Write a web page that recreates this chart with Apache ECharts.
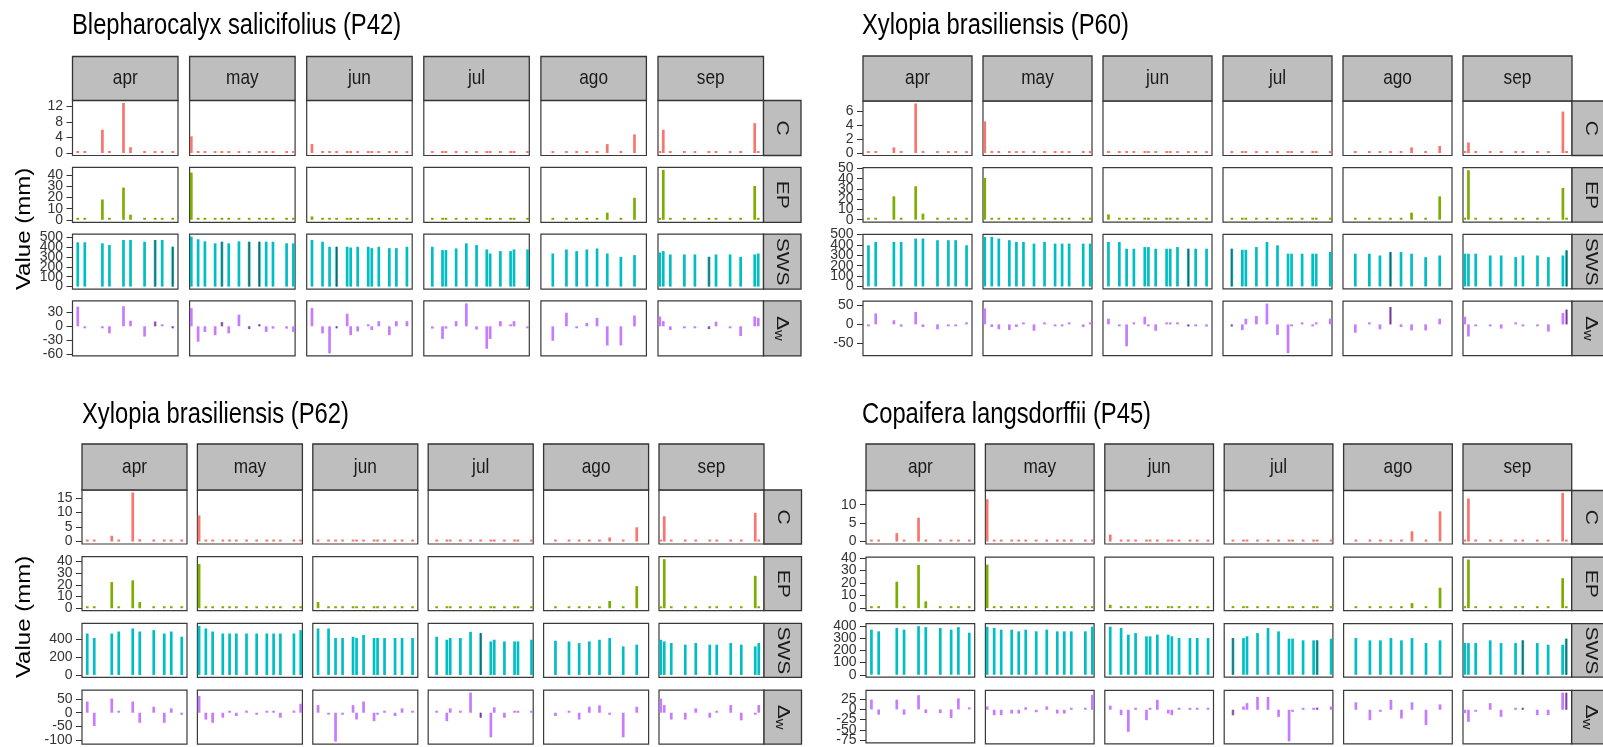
<!DOCTYPE html>
<html><head><meta charset="utf-8">
<script src="https://cdn.jsdelivr.net/npm/echarts@6/dist/echarts.min.js"></script>
<style>html,body{margin:0;padding:0;background:#fff}#c{width:1603px;height:747px}</style>
</head><body><div id="c"></div>
<script>
// ---------- categories ----------
const months = ['apr','may','jun','jul','ago','sep'];
const monthLength = [30,31,30,31,31,30];
const rowNames = ['C','EP','SWS','Δw'];
const rowColors = ['#F8766D','#7CAE00','#00BFC4','#C77CFF'];

// measurement days per month
const daysApr = [2,4,9,11,15,17,21,24,26,29];
const daysMay = [1,3,5,8,10,12,15,18,21,23,25,29,31];
const daysJun = [2,5,7,9,12,13,15,18,19,21,24,26,29];
const daysJul = [3,6,7,10,13,16,19,20,23,26,27,31];
const daysAgo = [4,8,11,14,17,20,24,28];
const daysSep = [1,2,4,8,11,15,17,21,24,28,29];

// ---------- P42 Blepharocalyx salicifolius ----------
const P42_C = [
 [0,0,6.0,0,12.9,1.5,0,0,0,0],
 [4.3,0,0,0,0,0,0,0,0,0,0,0,0],
 [2.3,0,0,0,0,0,0,0,0,0,0,0,0],
 [0,0,0,0,0,0,0,0,0,0,0,0],
 [0,0,0,0,0,2.3,0,4.8],
 [0,6.0,0,0,0,0,0,0,0,7.7,0]
];
const P42_EP = [
 [0,0,18.3,0,29,4.6,0,0,0,0],
 [42.5,0,0,0,0,0,0,0,0,0,0,0,0],
 [3,0,0,0,0,0,0,0,0,0,0,0,0],
 [0,0,0,0,0,0,0,0,0,0,0,0],
 [0,0,0,0,0,6.4,0,19.8],
 [0,45,0,0,0,0,0,0,0,30.5,0]
];
const P42_SWS = [
 [449,449,439,421,473,473,455,473,473,404],
 [507,480,459,439,455,439,459,455,455,455,455,439,439],
 [473,455,404,404,404,396,404,404,390,404,390,390,404],
 [404,370,370,387,439,421,377,336,360,360,377,377],
 [336,377,360,377,387,336,302,319],
 [346,360,326,326,326,302,326,326,302,326,336]
];
const P42_DW = [
 [42,-1,-4,-15,43,12,-22,10,3,-2],
 [39,-33,-12,-19,9,-15,25,-6,3,-12,-5,-5,-12],
 [39,-15,-58,-2,27,-19,-11,3,-8,11,-19,11,11],
 [-5,-27,-5,11,49,-7,-48,-27,11,3,11,-1],
 [-31,29,-2,7,18,-41,-41,23],
 [21,11,-8,-2,0,-6,10,-3,-21,21,18]
];
const P42_darkDays = [[24,29],[10,18,21],[9],[],[],[15]];
const ticksP42 = [[0,4,8,12],[0,10,20,30,40],[0,100,200,300,400,500],[-60,-30,0,30]];

// ---------- P60 Xylopia brasiliensis ----------
const P60_C = [
 [0,0,0.8,0,7.05,0.3,0,0,0,0],
 [4.5,0,0,0,0,0,0,0,0,0,0,0,0],
 [0.3,0,0,0,0,0,0,0,0,0,0,0,0],
 [0,0,0,0,0,0,0,0,0,0,0,0],
 [0,0,0,0,0,0.8,0,1.0],
 [0,1.5,0,0,0,0,0,0,0,5.9,0]
];
const P60_EP = [
 [0,0,22.8,0,32.6,5.9,0,0,0,0],
 [40.8,0,0,0,0,0,0,0,0,0,0,0,0],
 [5.2,0,0,0,0,0,0,0,0,0,0,0,0],
 [0,0,0,0,0,0,0,0,0,0,0,0],
 [0,0,0,0,0,6.9,0,22.8],
 [0,48.3,0,0,0,0,0,0,0,31,0]
];
const P60_SWS = [
 [396,428,428,428,461,461,445,445,445,396],
 [477,477,461,445,428,428,412,428,412,412,412,412,412],
 [428,428,363,363,379,379,363,363,363,379,363,363,363],
 [363,353,353,379,428,396,315,315,315,315,315,331],
 [315,315,298,331,331,315,282,298],
 [315,315,315,298,298,282,298,298,282,298,347]
];
const P60_DW = [
 [-4,29,11,-6,33,-7,-13,-3,-3,0],
 [42,-7,-13,-15,-7,5,-17,5,-3,-3,5,-7,5],
 [15,-3,-58,5,20,-5,-17,0,3,5,-4,-4,-6],
 [-3,-15,15,22,55,-28,-76,-3,0,-3,3,15],
 [-22,0,-13,46,-7,-16,-16,15],
 [20,-32,-3,-3,-11,0,-3,-3,-19,30,39]
];
const P60_darkDays = [[],[],[24],[3],[14],[29]];
const ticksP60 = [[0,2,4,6],[0,10,20,30,40,50],[0,100,200,300,400,500],[-50,0,50]];

// ---------- P62 Xylopia brasiliensis ----------
const P62_C = [
 [0,0,2,0,16.9,0.8,0,0,0,0],
 [9,0,0,0,0,0,0,0,0,0,0,0,0],
 [0,0,0,0,0,0,0,0,0,0,0,0,0],
 [0,0,0,0,0,0,0,0,0,0,0,0],
 [0,0,0,0,0,1.4,0,4.9],
 [0,8.7,0,0,0,0,0,0,0,9.9,0]
];
const P62_EP = [
 [0,0,22.4,0,23.9,5.3,0,0,0,0],
 [37.8,0,0,0,0,0,0,0,0,0,0,0,0],
 [5.3,0,0,0,0,0,0,0,0,0,0,0,0],
 [0,0,0,0,0,0,0,0,0,0,0,0],
 [0,0,0,0,0,6.2,0,18.9],
 [0,42,0,0,0,0,0,0,0,27.7,0]
];
const P62_SWS = [
 [460,410,460,482,516,482,498,460,482,424],
 [545,516,482,460,460,460,460,460,460,460,460,460,498],
 [516,516,410,410,424,410,443,410,410,410,410,410,410],
 [424,391,410,410,479,465,372,391,372,372,372,391],
 [380,372,354,372,391,410,317,336],
 [391,372,354,336,354,336,336,354,336,317,354]
];
const P62_DW = [
 [41,-49,52,6,41,-37,22,-37,16,0],
 [62,-25,-37,-18,6,-12,8,-6,5,5,-18,8,33],
 [28,-6,-106,-6,28,-25,41,-31,-5,0,-12,16,0],
 [3,-31,16,0,74,-18,-90,20,-18,3,3,3],
 [-12,0,-25,22,27,-3,-90,22],
 [52,28,-25,-25,16,-18,0,28,-28,-6,28]
];
const P62_darkDays = [[],[],[],[16],[],[]];
const ticksP62 = [[0,5,10,15],[0,10,20,30,40],[0,200,400],[-100,-50,0,50]];

// ---------- P45 Copaifera langsdorffii ----------
const P45_C = [
 [0,0,2.3,0,6.5,0,0,0,0,0],
 [11.5,0,0,0,0,0,0,0,0,0,0,0,0],
 [1.9,0,0,0,0,0,0,0,0,0,0,0,0],
 [0,0,0,0,0,0,0,0,0,0,0,0],
 [0,0,0,0,0,2.8,0,8.2],
 [0,11.7,0,0,0,0,0,0,0,13.2,0]
];
const P45_EP = [
 [0,0,21,0,34.3,5.4,0,0,0,0],
 [34.6,0,0,0,0,0,0,0,0,0,0,0,0],
 [2.7,0,0,0,0,0,0,0,0,0,0,0,0],
 [0,0,0,0,0,0,0,0,0,0,0,0],
 [0,0,0,0,0,4,0,16.2],
 [0,38.6,0,0,0,0,0,0,0,23.8,0]
];
const P45_SWS = [
 [371,357,385,371,400,392,385,371,392,346],
 [395,385,371,371,357,371,357,371,357,357,357,357,395],
 [395,385,330,343,316,316,330,330,316,302,302,302,302],
 [302,302,316,343,385,357,297,297,283,283,283,297],
 [302,283,283,302,283,302,261,283],
 [261,261,261,283,261,261,283,261,247,247,297]
];
const P45_DW = [
 [24,-13,24,-13,35,-9,-9,-21,27,0],
 [8,-13,-13,-9,-9,6,-6,8,-9,-9,5,0,36],
 [10,-13,-53,5,-25,3,24,-9,-13,0,0,0,0],
 [-13,8,16,31,31,-17,-76,-5,0,0,5,8],
 [18,-25,-3,24,-21,18,-37,13],
 [-8,-29,-3,16,-17,3,3,-13,-13,41,41]
];
const P45_darkDays = [[],[],[],[3,27],[],[17,29]];
const ticksP45 = [[0,5,10],[0,10,20,30,40],[0,100,200,300,400],[-75,-50,-25,0,25]];

const plantTitles = ['Blepharocalyx salicifolius (P42)','Xylopia brasiliensis (P60)','Xylopia brasiliensis (P62)','Copaifera langsdorffii (P45)'];

// ---------- assembly ----------
const sampleDays = [daysApr, daysMay, daysJun, daysJul, daysAgo, daysSep];
const plantData = [
  [P42_C, P42_EP, P42_SWS, P42_DW],
  [P60_C, P60_EP, P60_SWS, P60_DW],
  [P62_C, P62_EP, P62_SWS, P62_DW],
  [P45_C, P45_EP, P45_SWS, P45_DW]
];
const plantDark = [P42_darkDays, P60_darkDays, P62_darkDays, P45_darkDays];
const plantTicks = [ticksP42, ticksP60, ticksP62, ticksP45];

// layout (pixels)
const layout = [
  {colLeft:72.5, colPitch:117.1, colW:105.5, rowTop:100.5, rowPitch:66.8, rowH:55,   stripTop:56.5, titleX:72,  titleY:26,  ylab:true,  ylabY:229},
  {colLeft:863,  colPitch:120,   colW:109,   rowTop:101,   rowPitch:66.7, rowH:54.5, stripTop:56,   titleX:862, titleY:26,  ylab:false},
  {colLeft:82,   colPitch:115.4, colW:105,   rowTop:490,   rowPitch:66.7, rowH:54,   stripTop:444,  titleX:82,  titleY:415, ylab:true,  ylabY:617},
  {colLeft:866,  colPitch:119.4, colW:108.7, rowTop:490.5, rowPitch:66.6, rowH:53.5, stripTop:444,  titleX:862, titleY:415, ylab:false}
];
const FONT = "'Liberation Sans', Arial, sans-serif";
const NARROW = "'Liberation Sans Narrow', 'Arial Narrow', 'Liberation Sans', sans-serif";
const SQ = 0.82; // horizontal squeeze of the reference's text

function yAxisDef(gi, ymin, ymax, ticks, show) {
  return {type:'value', gridIndex:gi, min:ymin, max:ymax, position:'left', offset:0,
    splitLine:{show:false}, axisLine:{show:false},
    axisTick:{show:show, customValues:ticks, length:6, lineStyle:{color:'#333', width:1}},
    axisLabel:{show:show, customValues:ticks, fontSize:14, fontFamily:NARROW, color:'#333', margin:9.5,
               showMinLabel:true, showMaxLabel:true, hideOverlap:false}};
}

const grids = [], xAxes = [], yAxes = [], series = [], graphics = [];
plantData.forEach((rows, p) => {
  const L = layout[p];
  graphics.push({type:'text', x:L.titleX, y:L.titleY, scaleX:SQ, silent:true,
    style:{text:plantTitles[p], fill:'#000', fontSize:29, fontFamily:FONT, align:'left', verticalAlign:'middle'}});
  if (L.ylab) graphics.push({type:'text', x:25, y:L.ylabY, rotation:Math.PI/2, scaleY:SQ, silent:true,
    style:{text:'Value (mm)', fill:'#000', fontSize:24, fontFamily:FONT, align:'center', verticalAlign:'middle'}});
  // month strips
  months.forEach((m, c) => {
    const x = L.colLeft + c*L.colPitch;
    graphics.push({type:'rect', shape:{x:x, y:L.stripTop, width:L.colW, height:L.rowTop-L.stripTop}, silent:true,
      style:{fill:'#BEBEBE', stroke:'#333', lineWidth:1.3}});
    graphics.push({type:'text', x:x+L.colW/2, y:(L.stripTop+L.rowTop)/2, scaleX:SQ, silent:true,
      style:{text:m, fill:'#1a1a1a', fontSize:21, fontFamily:FONT, align:'center', verticalAlign:'middle'}});
  });
  const stripX = L.colLeft + 5*L.colPitch + L.colW;
  rows.forEach((monthVals, r) => {
    const top = L.rowTop + r*L.rowPitch;
    graphics.push({type:'rect', shape:{x:stripX, y:top, width:37.5, height:L.rowH}, silent:true,
      style:{fill:'#BEBEBE', stroke:'#333', lineWidth:1.3}});
    const isDw = r === 3;
    graphics.push({type:'text', x:stripX+18.75, y:top+L.rowH/2, rotation:-Math.PI/2, scaleY:SQ, silent:true,
      style: isDw ? {text:'{d|Δ}{s|w}', fill:'#1a1a1a', fontFamily:FONT, align:'center', verticalAlign:'middle',
                     rich:{d:{fontSize:21, lineHeight:24, verticalAlign:'middle', fill:'#1a1a1a', fontFamily:FONT},
                           s:{fontSize:15, lineHeight:24, verticalAlign:'bottom', fill:'#1a1a1a', fontFamily:FONT}}}
                  : {text:rowNames[r], fill:'#1a1a1a', fontSize:21, fontFamily:FONT, align:'center', verticalAlign:'middle'}});
    // y range for this row (shared across months), ggplot-like 5% expansion
    let lo = 0, hi = 0;
    monthVals.forEach(a => a.forEach(v => { lo = Math.min(lo, v); hi = Math.max(hi, v); }));
    const pad = 0.05*(hi-lo);
    const ymin = lo - pad, ymax = hi + pad;
    const tk = plantTicks[p][r];
    const tkEven = tk.filter((v, i) => i % 2 === 0);
    const tkOdd = tk.filter((v, i) => i % 2 === 1);
    monthVals.forEach((vals, c) => {
      const gi = grids.length;
      grids.push({left:L.colLeft + c*L.colPitch, top:top, width:L.colW, height:L.rowH,
        show:true, borderColor:'#3a3a3a', borderWidth:1.2, backgroundColor:'#fff', containLabel:false});
      const xi = xAxes.length;
      xAxes.push({type:'value', gridIndex:gi, min:0.5, max:monthLength[c]+0.5, show:false});
      xAxes.push({type:'value', gridIndex:gi, min:0.5, max:monthLength[c]+0.5, show:false});
      const yi = yAxes.length;
      yAxes.push(yAxisDef(gi, ymin, ymax, tkEven, c === 0));
      yAxes.push(yAxisDef(gi, ymin, ymax, tkOdd, c === 0 && tkOdd.length > 0));
      const pts = sampleDays[c].map((d, i) => [d, vals[i]]);
      series.push({type:'bar', xAxisIndex:xi, yAxisIndex:yi, silent:true, animation:false,
        barWidth:2.7, barMinHeight:2,
        itemStyle:{color:rowColors[r]},
        data: pts});
      // darker overlapping bars (days with a second, dark-outlined bar)
      const dark = plantDark[p][c];
      if (r >= 2 && dark.length) {
        series.push({type:'bar', xAxisIndex:xi+1, yAxisIndex:yi, silent:true, animation:false,
          barWidth:1.2, barMinHeight:2, z:3,
          itemStyle:{color:'rgba(70,70,70,0.85)'},
          data: pts.filter(pt => dark.indexOf(pt[0]) >= 0)});
      }
    });
  });
});

const chart = echarts.init(document.getElementById('c'), null, {renderer:'canvas'});
chart.setOption({animation:false, grid:grids, xAxis:xAxes, yAxis:yAxes, series:series, graphic:graphics});
</script></body></html>
